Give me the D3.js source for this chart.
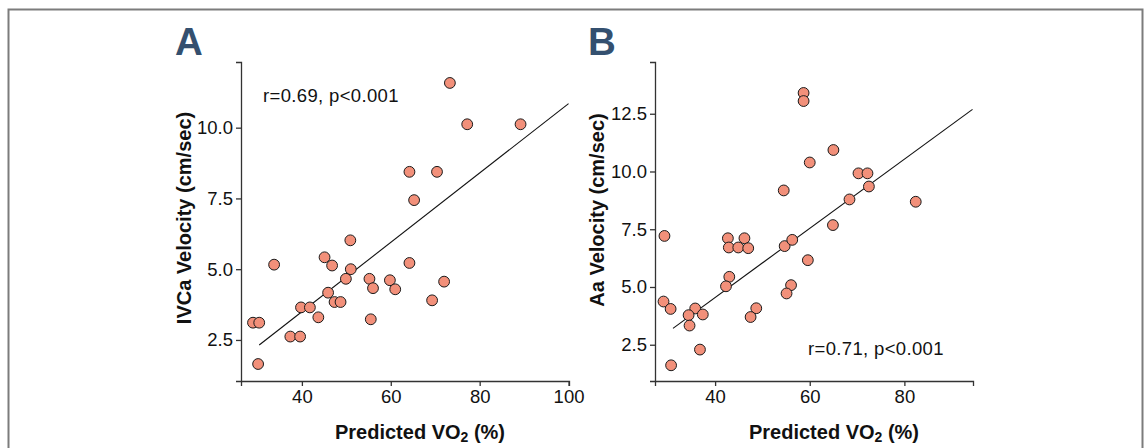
<!DOCTYPE html>
<html><head><meta charset="utf-8">
<script src="https://cdn.jsdelivr.net/npm/d3@7"></script>
<style>
body{margin:0;background:#fff;}
svg{display:block;font-family:"Liberation Sans",Arial,Helvetica,sans-serif;}
</style></head>
<body><svg id="c" width="1148" height="448"></svg>
<script>
// Panel A data: Predicted VO2 (%) vs IVCa Velocity (cm/sec)
const aX = [73.3,77.2,89.2,64.2,70.4,65.25,50.9,33.75,45.1,46.8,51.0,49.9,55.2,56.0,59.8,61.0,64.2,72.0,69.3,45.9,47.35,48.7,39.8,41.8,43.7,55.5,29.0,30.4,37.4,39.6,30.15];
const aY = [11.58,10.12,10.12,8.44,8.44,7.44,6.02,5.16,5.42,5.13,5.0,4.66,4.66,4.33,4.61,4.29,5.22,4.56,3.90,4.17,3.84,3.84,3.65,3.65,3.3,3.23,3.11,3.11,2.62,2.62,1.65];
const aLineX = [30.4,100.0];
const aLineY = [2.32,10.85];
const aXTicks = [40,60,80,100];
const aYTicks = [2.5,5.0,7.5,10.0];
const aStat = "r=0.69, p<0.001";
const aYTitle = "IVCa Velocity (cm/sec)";

// Panel B data: Predicted VO2 (%) vs Aa Velocity (cm/sec)
const bX = [58.7,58.7,65.0,60.0,70.3,72.2,72.5,54.5,68.4,82.4,64.9,29.3,42.7,46.2,42.9,44.9,47.0,54.7,56.3,59.6,43.0,42.3,56.05,55.1,29.1,30.6,35.8,34.4,37.4,34.6,48.7,47.5,36.8,30.7];
const bY = [13.4,13.05,10.93,10.39,9.92,9.92,9.35,9.18,8.79,8.69,7.68,7.21,7.11,7.11,6.71,6.71,6.68,6.77,7.04,6.16,5.44,5.03,5.08,4.72,4.37,4.05,4.07,3.78,3.81,3.33,4.08,3.70,2.29,1.61];
const bLineX = [31.1,94.4];
const bLineY = [3.21,12.69];
const bXTicks = [40,60,80];
const bYTicks = [2.5,5.0,7.5,10.0,12.5];
const bStat = "r=0.71, p<0.001";
const bYTitle = "Aa Velocity (cm/sec)";

const xTitleMain = "Predicted VO";
const xTitleSub = "2";
const xTitleEnd = " (%)";

const svg = d3.select("#c");

// frame
svg.append("path")
  .attr("d","M8.5,460 V9.5 H1142.5 V460")
  .attr("fill","none").attr("stroke","#7c7c7c").attr("stroke-width",2);

function panel(cfg){
  const x = d3.scaleLinear().domain(cfg.xd).range(cfg.xr);
  const y = d3.scaleLinear().domain(cfg.yd).range([381,62]);
  const g = svg.append("g");

  const ax = g.append("g").attr("transform","translate(0,381)")
    .call(d3.axisBottom(x).tickValues(cfg.xt).tickFormat(d3.format("d")).tickSizeOuter(0).tickSize(5).tickPadding(4));
  const ay = g.append("g").attr("transform",`translate(${cfg.xr[0]},0)`)
    .call(d3.axisLeft(y).tickValues(cfg.yt).tickFormat(d3.format(".1f")).tickSizeOuter(0).tickSize(5).tickPadding(3));
  [ax,ay].forEach(a=>{
    a.selectAll("path,line").attr("stroke","#333").attr("stroke-width",1.3);
    a.selectAll("text").attr("font-size",18.5).attr("fill","#111")
      .attr("font-family","'Liberation Sans',Arial,sans-serif");
  });

  g.append("line")
    .attr("x1",x(cfg.lx[0])).attr("y1",y(cfg.ly[0]))
    .attr("x2",x(cfg.lx[1])).attr("y2",y(cfg.ly[1]))
    .attr("stroke","#111").attr("stroke-width",1.1);

  g.selectAll("circle.pt").data(cfg.px.map((v,i)=>[v,cfg.py[i]])).enter()
    .append("circle").attr("class","pt")
    .attr("cx",d=>x(d[0])).attr("cy",d=>y(d[1])).attr("r",5.4)
    .attr("fill","#F2907A").attr("stroke","#1a1a1a").attr("stroke-width",1);

  g.append("text").attr("x",cfg.statPos[0]).attr("y",cfg.statPos[1])
    .attr("font-size",18.5).attr("letter-spacing",0.35).attr("fill","#111").text(cfg.stat);

  const xt = g.append("text").attr("x",cfg.xTitleX).attr("y",439)
    .attr("text-anchor","middle").attr("font-size",20).attr("font-weight","bold").attr("fill","#111");
  xt.append("tspan").text(xTitleMain);
  xt.append("tspan").attr("font-size",14).attr("dy",3).text(xTitleSub);
  xt.append("tspan").attr("dy",-3).text(xTitleEnd);

  g.append("text").attr("transform",`translate(${cfg.yTitlePos[0]},${cfg.yTitlePos[1]}) rotate(-90)`)
    .attr("text-anchor","middle").attr("font-size",20).attr("font-weight","bold").attr("fill","#111")
    .text(cfg.yTitle);

  g.append("text").attr("x",cfg.letterPos[0]).attr("y",54.5)
    .attr("font-size",38.5).attr("font-weight","bold").attr("fill","#34506F").text(cfg.letter);
}

panel({xd:[26.3,100.1], xr:[241,569], yd:[1.05,12.32], xt:aXTicks, yt:aYTicks,
  px:aX, py:aY, lx:aLineX, ly:aLineY, stat:aStat, statPos:[263,102],
  xTitleX:420, yTitle:aYTitle, yTitlePos:[191,218], letter:"A", letterPos:[175,0]});
panel({xd:[27.3,94.5], xr:[655,973], yd:[0.93,14.74], xt:bXTicks, yt:bYTicks,
  px:bX, py:bY, lx:bLineX, ly:bLineY, stat:bStat, statPos:[808,355],
  xTitleX:834, yTitle:bYTitle, yTitlePos:[604,210], letter:"B", letterPos:[588,0]});
</script></body></html>
